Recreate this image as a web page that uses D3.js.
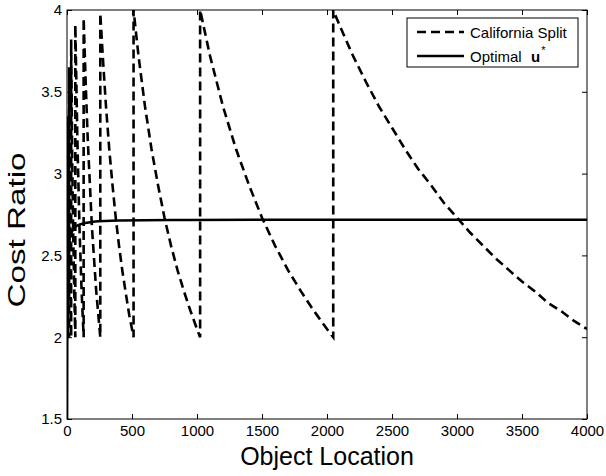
<!DOCTYPE html>
<html>
<head>
<meta charset="utf-8">
<script src="https://cdn.jsdelivr.net/npm/d3@7"></script>
<style>
  body { margin: 0; background: #fff; }
  svg { display: block; font-family: "Liberation Sans", Arial, sans-serif; }
</style>
</head>
<body>
<div id="chart"></div>
<script>
// California Split cost ratio, [location, ratio]
const splitPoints = [
  [1, 2.0], [2, 2.0], [2, 3.0], [4, 2.0], [4, 3.3], [8, 2.0], [8, 3.35],
  [16, 2.0], [16, 3.65], [24, 2.6], [32, 2.0], [32, 3.82], [40, 3.1], [48, 2.62], [56, 2.27], [64, 2.0],
  [64, 3.91], [80, 3.2], [96, 2.67], [112, 2.29], [128, 2.0],
  [128, 3.95], [144, 3.55], [160, 3.2], [192, 2.67], [224, 2.29], [256, 2.0],
  [256, 3.98], [275, 3.72], [300, 3.41], [325, 3.15], [350, 2.93], [375, 2.73], [400, 2.56],
  [425, 2.41], [450, 2.28], [480, 2.13], [512, 2.0],
  [512, 4.0], [550, 3.72], [600, 3.41], [650, 3.15], [700, 2.93], [750, 2.73], [800, 2.56],
  [850, 2.41], [900, 2.28], [950, 2.16], [1000, 2.05], [1024, 2.0],
  [1024, 4.0], [1100, 3.72], [1200, 3.41], [1300, 3.15], [1400, 2.93], [1500, 2.73],
  [1600, 2.56], [1700, 2.41], [1800, 2.28], [1900, 2.16], [2000, 2.05], [2048, 2.0],
  [2048, 4.0], [2100, 3.90], [2200, 3.72], [2300, 3.56], [2400, 3.41], [2500, 3.28],
  [2600, 3.15], [2700, 3.03], [2800, 2.93], [2900, 2.82], [3000, 2.73], [3100, 2.64],
  [3200, 2.56], [3300, 2.48], [3400, 2.41], [3500, 2.34], [3600, 2.28], [3700, 2.21],
  [3800, 2.16], [3900, 2.10], [4000, 2.05]
];

// Optimal u* cost ratio
const optimalPoints = [
  [1, 1.5], [2, 1.9], [3, 2.15], [5, 2.35], [8, 2.48], [12, 2.55], [20, 2.6],
  [35, 2.64], [60, 2.67], [100, 2.69], [200, 2.705], [400, 2.713], [800, 2.716],
  [1500, 2.718], [4000, 2.718]
];

const xTicks = [0, 500, 1000, 1500, 2000, 2500, 3000, 3500, 4000];
const yTicks = [1.5, 2, 2.5, 3, 3.5, 4];
const seriesNames = ["California Split", "Optimal"];

var width = 606;
var height = 476;

const margin = {top: 10, right: 19, bottom: 57, left: 67};

let svg = d3.select("#chart").append("svg")
  .attr("width", width)
  .attr("height", height);

let x = d3.scaleLinear()
  .domain([0, 4000])
  .range([margin.left, width - margin.right]);

let y = d3.scaleLinear()
  .domain([1.5, 4])
  .range([height - margin.bottom, margin.top]);

// clip so curves stay inside the box
svg.append("clipPath").attr("id", "clip")
  .append("rect")
  .attr("x", x(0)).attr("y", y(4))
  .attr("width", x(4000) - x(0)).attr("height", y(1.5) - y(4));

let line = d3.line()
  .x(d => x(d[0]))
  .y(d => y(d[1]));

let plot = svg.append("g").attr("clip-path", "url(#clip)");

plot.append("path")
  .datum(optimalPoints)
  .attr("d", line.curve(d3.curveMonotoneX))
  .attr("fill", "none")
  .attr("stroke", "#000")
  .attr("stroke-width", 2.5);

plot.append("path")
  .datum(splitPoints)
  .attr("d", line.curve(d3.curveLinear))
  .attr("fill", "none")
  .attr("stroke", "#000")
  .attr("stroke-width", 2.6)
  .attr("stroke-dasharray", "9,5");

// axes, ticks pointing inward like matlab
let xAxis = d3.axisBottom(x).tickValues(xTicks).tickSizeInner(-5).tickSizeOuter(0).tickPadding(6)
  .tickFormat(d3.format("d"));
let yAxis = d3.axisLeft(y).tickValues(yTicks).tickSizeInner(-5).tickSizeOuter(0).tickPadding(5)
  .tickFormat(d3.format("~g"));

svg.append("g")
  .attr("transform", `translate(0, ${y(1.5)})`)
  .call(xAxis);
svg.append("g")
  .attr("transform", `translate(${x(0)}, 0)`)
  .call(yAxis);

svg.append("g")
  .attr("transform", `translate(0, ${y(4)})`)
  .call(d3.axisTop(x).tickValues(xTicks).tickSizeInner(-5).tickSizeOuter(0).tickFormat(""));
svg.append("g")
  .attr("transform", `translate(${x(4000)}, 0)`)
  .call(d3.axisRight(y).tickValues(yTicks).tickSizeInner(-5).tickSizeOuter(0).tickFormat(""));

svg.selectAll(".domain").remove();
svg.selectAll(".tick line").attr("stroke", "#000");
svg.selectAll(".tick text")
  .attr("fill", "#000")
  .style("font-family", "Liberation Sans, Arial, sans-serif")
  .style("font-size", "15px");

// box
svg.append("rect")
  .attr("x", x(0)).attr("y", y(4))
  .attr("width", x(4000) - x(0)).attr("height", y(1.5) - y(4))
  .attr("fill", "none").attr("stroke", "#000").attr("stroke-width", 1);

// axis titles
svg.append("text")
  .attr("x", (x(0) + x(4000)) / 2)
  .attr("y", 465)
  .attr("text-anchor", "middle")
  .style("font-size", "25px")
  .text("Object Location");

svg.append("text")
  .attr("transform", "translate(25, 230) rotate(-90)")
  .attr("text-anchor", "middle")
  .attr("textLength", 155)
  .attr("lengthAdjust", "spacingAndGlyphs")
  .style("font-size", "24px")
  .text("Cost Ratio");

// legend
let legend = svg.append("g");
legend.append("rect")
  .attr("x", 407).attr("y", 18)
  .attr("width", 171).attr("height", 49)
  .attr("fill", "#fff").attr("stroke", "#000").attr("stroke-width", 1);

legend.append("line")
  .attr("x1", 417).attr("x2", 464).attr("y1", 32).attr("y2", 32)
  .attr("stroke", "#000").attr("stroke-width", 2.6).attr("stroke-dasharray", "9,5");
legend.append("line")
  .attr("x1", 417).attr("x2", 464).attr("y1", 56).attr("y2", 56)
  .attr("stroke", "#000").attr("stroke-width", 2.5);

legend.append("text")
  .attr("x", 470).attr("y", 38)
  .style("font-size", "15px")
  .text(seriesNames[0]);

let lab2 = legend.append("text")
  .attr("x", 470).attr("y", 62)
  .style("font-size", "15px");
lab2.append("tspan").text(seriesNames[1]);
lab2.append("tspan").attr("x", 531).style("font-weight", "bold").text("u");
lab2.append("tspan").attr("dx", 1).attr("dy", -8).style("font-size", "11px").text("*");
</script>
</body>
</html>
